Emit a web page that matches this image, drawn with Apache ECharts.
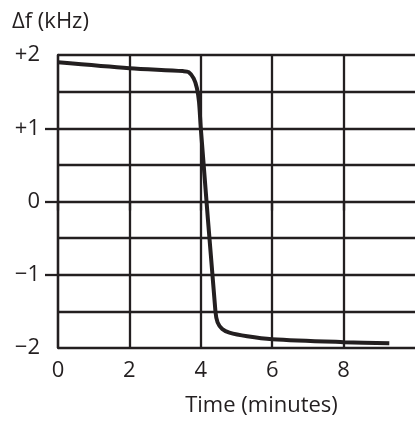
<!DOCTYPE html>
<html>
<head>
<meta charset="utf-8">
<script src="https://cdn.jsdelivr.net/npm/echarts@6/dist/echarts.min.js"></script>
<style>html,body{margin:0;padding:0;background:#fff}#c{width:415px;height:425px}</style>
</head>
<body>
<div id="c"></div>
<script>
// Time (minutes)
var timeMin = [0, 2, 3.5, 3.66, 3.8, 3.89, 3.95, 4.0, 4.41, 4.47, 4.6, 4.8, 5.3, 6, 8, 9.28];
// Δf (kHz)
var deltaF = [1.90, 1.82, 1.78, 1.765, 1.68, 1.55, 1.36, 1.00, -1.50, -1.65, -1.74, -1.79, -1.84, -1.88, -1.92, -1.935];
var xTicks = [0, 2, 4, 6, 8];
var yTicks = [-1, 0, 1];
var yLabels = {'2': '+2', '1': '+1', '0': '0', '-1': '\u22121', '-2': '\u22122'};

var ink = '#231f20';
var font = 'Open Sans';
var pts = timeMin.map(function (t, i) { return [t, deltaF[i]]; });

var chart = echarts.init(document.getElementById('c'), null, {renderer: 'canvas'});
chart.setOption({
  animation: false,
  grid: {left: 58, top: 55, width: 365, height: 293, containLabel: false},
  xAxis: {
    type: 'value', min: 0, max: 10, interval: 2,
    name: 'Time (minutes)', nameLocation: 'middle', nameGap: 47,
    nameTextStyle: {color: ink, fontSize: 22, fontFamily: font, padding: [0, 0, 0, 50]},
    axisLine: {show: false},
    axisTick: {show: true, length: 9, customValues: xTicks, lineStyle: {color: ink, width: 2.3}},
    axisLabel: {color: ink, fontSize: 22, fontFamily: font, margin: 12, customValues: xTicks},
    splitLine: {show: true, showMinLine: true, showMaxLine: true, lineStyle: {color: ink, width: 2.3}}
  },
  yAxis: [{
    type: 'value', min: -2, max: 2, interval: 1,
    name: '\u0394f (kHz)', nameLocation: 'end', nameGap: 22,
    nameTextStyle: {color: ink, fontSize: 22, fontFamily: font, align: 'left', padding: [0, 0, 0, -46]},
    axisLine: {show: true, lineStyle: {color: ink, width: 2.3}},
    axisTick: {show: false},
    axisLabel: {color: ink, fontSize: 22, fontFamily: font, margin: 18,
      formatter: function (v) { return yLabels[String(v)] || ''; }},
    splitLine: {show: true, showMinLine: true, showMaxLine: true, lineStyle: {color: ink, width: 2.3}},
    minorTick: {show: false, splitNumber: 2},
    minorSplitLine: {show: true, lineStyle: {color: ink, width: 2.3}}
  }, {
    type: 'value', min: -2, max: 2, interval: 1, position: 'left', offset: 0,
    axisLine: {show: false},
    axisTick: {show: true, length: 13, customValues: yTicks, lineStyle: {color: ink, width: 2.3}},
    axisLabel: {show: false},
    splitLine: {show: false}
  }],
  series: [{
    type: 'line', data: pts, smooth: 0.3, symbol: 'none',
    lineStyle: {color: ink, width: 4}, z: 5
  }]
});
</script>
</body>
</html>
